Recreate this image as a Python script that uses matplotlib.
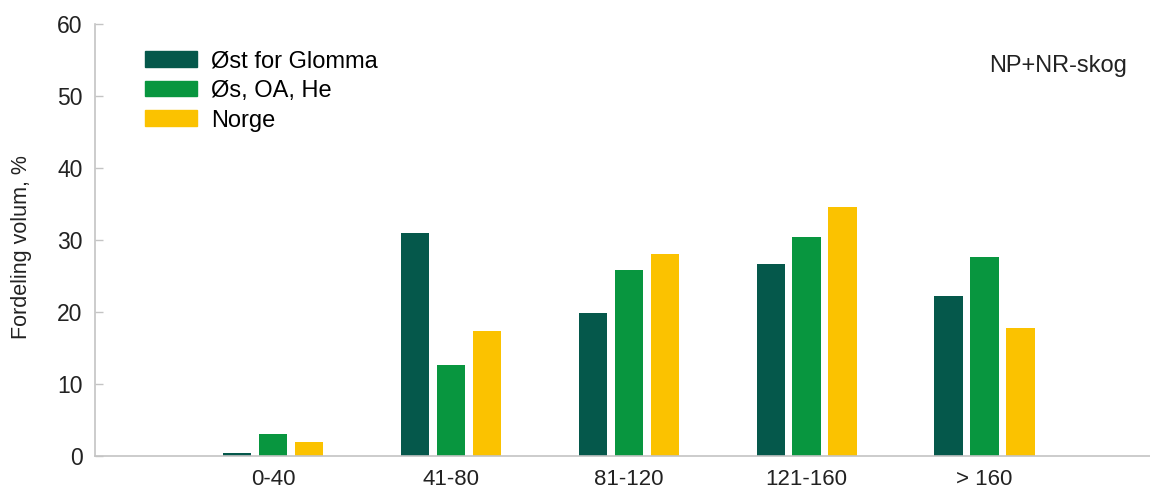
import numpy as np
import matplotlib
matplotlib.use('Agg')
import matplotlib.pyplot as plt
from matplotlib.patches import Patch

plt.rcParams['font.family'] = ['Liberation Sans', 'DejaVu Sans']

# Data
categories = ['0-40', '41-80', '81-120', '121-160', '> 160']
series_names = ['Øst for Glomma', 'Øs, OA, He', 'Norge']
ost_for_glomma = [0.4, 31.0, 19.8, 26.6, 22.2]
os_oa_he = [3.1, 12.7, 25.9, 30.4, 27.7]
norge = [1.9, 17.3, 28.1, 34.6, 17.8]
colors = ['#05584B', '#08963F', '#FBC200']

fig = plt.figure(figsize=(11.5, 4.93), dpi=100)
ax = fig.add_axes([95 / 1150, 1 - 456 / 493, 1 - 95 / 1150, (456 - 24) / 493])

x = np.arange(1, len(categories) + 1)
width = 0.159
offset = 0.202
for i, (vals, col) in enumerate(zip([ost_for_glomma, os_oa_he, norge], colors)):
    ax.bar(x + (i - 1) * offset, vals, width, color=col)

ax.set_xlim(0, 5.93)
ax.set_ylim(0, 60)
ax.set_yticks(range(0, 61, 10))
ax.set_xticks(x)
ax.set_xticklabels(categories)

for s in ['top', 'right']:
    ax.spines[s].set_visible(False)
for s in ['left', 'bottom']:
    ax.spines[s].set_color('#C4C4C4')
    ax.spines[s].set_linewidth(1.2)

ax.tick_params(axis='y', direction='in', length=6, width=1, color='#C4C4C4',
               pad=9, labelsize=16.5, labelcolor='#222222')
ax.tick_params(axis='x', length=0, pad=9.5, labelsize=16, labelcolor='#222222')

ax.set_ylabel('Fordeling volum, %', fontsize=15.5, color='#222222')
ax.yaxis.set_label_coords(-0.06, 0.484)

ax.text(1058 / 1150, 1 - 66 / 493, 'NP+NR-skog', transform=fig.transFigure,
        ha='center', va='center', fontsize=17, color='#222222')

handles = [Patch(color=c) for c in colors]
fig.legend(handles, series_names, loc='upper left',
           bbox_to_anchor=(145 / 1150, 1 - 50 / 493), frameon=False,
           fontsize=17, handlelength=2.2, handleheight=0.65,
           handletextpad=0.6, labelspacing=0.33, borderpad=0, borderaxespad=0)

fig.savefig('out.png', dpi=100)
